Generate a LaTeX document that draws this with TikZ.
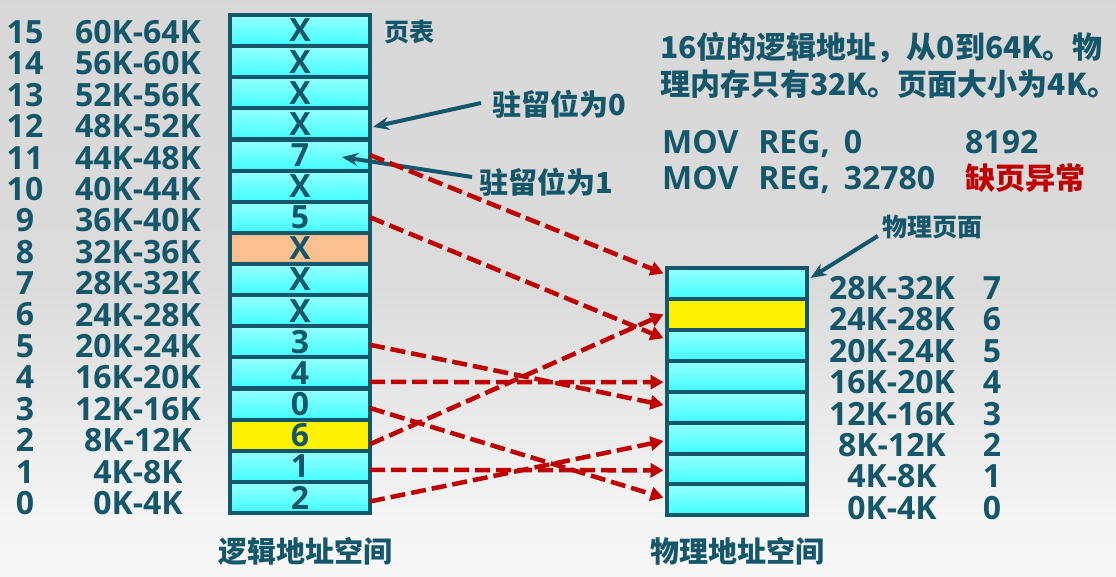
\documentclass[tikz,border=0pt]{standalone}
\usepackage{fontspec}
\setmainfont{Open Sans}
\newfontfamily\cjk{Noto Sans CJK SC}
\usetikzlibrary{arrows.meta,calc}
\definecolor{ink}{RGB}{20,86,106}
\definecolor{pfred}{RGB}{192,0,0}
\definecolor{cellhi}{RGB}{150,255,255}
\definecolor{celllo}{RGB}{64,255,255}
\definecolor{swapped}{RGB}{250,192,143}
\pgfdeclareverticalshading{slidebg}{100bp}{color(0bp)=(white); color(30bp)=(black!4); color(50bp)=(black!14); color(100bp)=(black!17)}

\begin{document}
\begin{tikzpicture}[
  x=1pt, y=-1pt,
  every node/.style={font=\bfseries\fontsize{32}{32}\selectfont, text=ink, inner sep=0pt},
  cellbase/.style={draw=ink, line width=4pt, minimum width=140pt, minimum height=31.1pt, outer sep=0pt},
  cell/.style={cellbase, top color=cellhi, bottom color=celllo},
  flatcell/.style={cellbase, fill=#1},
  cjktext/.style={font=\cjk\bfseries\fontsize{#1}{#1}\selectfont},
  map/.style={draw=pfred, line width=4.5pt, dash pattern=on 15pt off 6pt, -{Triangle[length=13pt,width=14pt]}},
  pointer/.style={draw=ink, line width=4pt, -{Stealth[length=16pt,width=13pt]}}
]
\useasboundingbox (0,0) rectangle (1116,577);
\shade[shading=slidebg] (0,0) rectangle (1116,577);

% logical address space (page table)
\foreach \k/\v in {15/X,14/X,13/X,12/X,11/7,10/X,9/5,7/X,6/X,5/3,4/4,3/0,1/1,0/2}
  \node[cell] (l\k) at (300,{15+(15.5-\k)*31.125}) {\v};
\node[flatcell=swapped] (l8) at (300,{15+7.5*31.125}) {X};
\node[flatcell=yellow] (l2) at (300,{15+13.5*31.125}) {6};
\foreach \k in {0,...,15}{
  \pgfmathtruncatemacro\lo{4*\k}
  \pgfmathtruncatemacro\hi{4*\k+4}
  \node (n\k) at (25,{32+(15-\k)*31.4}) {\k};
  \node (r\k) at (138,{32+(15-\k)*31.4}) {\lo K-\hi K};
}
\node[cjktext=25] (pt) at (409,32) {页表};
\node[cjktext=29] (vspace) at (305,551) {逻辑地址空间};

% physical address space
\foreach \k in {0,1,2,3,4,5,7}
  \node[cell] (f\k) at (736.5,{268+(7.5-\k)*30.9}) {};
\node[flatcell=yellow] (f6) at (736.5,{268+1.5*30.9}) {};
\foreach \k in {0,...,7}{
  \pgfmathtruncatemacro\lo{4*\k}
  \pgfmathtruncatemacro\hi{4*\k+4}
  \node (fr\k) at (892,{288+(7-\k)*31.4}) {\lo K-\hi K};
  \node (fn\k) at (992,{288+(7-\k)*31.4}) {\k};
}
\node[cjktext=29] (pspace) at (737,551) {物理地址空间};
\node[cjktext=25] (pp) at (932,227) {物理页面};

% notes
\node[cjktext=30, anchor=west] (info1) at (660,48) {16位的逻辑地址，从0到64K。物};
\node[cjktext=30, anchor=west] (info2) at (660,84) {理内存只有32K。页面大小为4K。};
\node[anchor=base west] (mov1) at (662,154) {MOV\hspace{20pt}REG,\hspace{14pt}0};
\node[anchor=base west] (mov2) at (662,190) {MOV\hspace{20pt}REG,\hspace{14pt}32780};
\node[anchor=base west] (addr1) at (965,154) {8192};
\node[cjktext=30, anchor=base west, text=pfred] (fault) at (965,190) {缺页异常};
\node[cjktext=29, anchor=west] (res0) at (492,104) {驻留位为0};
\node[cjktext=29, anchor=west] (res1) at (479,182) {驻留位为1};

\draw[pointer] ($(res0.west)+(-11,-1)$) -- ($(l12.east)+(3,3)$);
\draw[pointer] ($(res1.west)+(-7,-5)$) -- ($(l11.center)+(42,2)$);
\draw[pointer] ($(pp.west)+(-4,9)$) -- ($(f7.north east)+(4,10)$);

% page -> frame mapping
\draw[map] (l11.east) -- ($(f7.west)+(-3,-10)$);
\draw[map] (l9.east) -- ($(f5.west)+(-3,-7)$);
\draw[map] ($(l5.east)+(0,3)$) -- ($(f3.west)+(-3,-2)$);
\draw[map] ($(l4.east)+(0,9)$) -- ($(f4.west)+(-3,6)$);
\draw[map] ($(l3.east)+(0,4)$) -- ($(f0.west)+(-3,-2)$);
\draw[map] ($(l2.east)+(0,9)$) -- ($(f6.west)+(-3,0)$);
\draw[map] ($(l1.east)+(0,3.5)$) -- ($(f1.west)+(-3,1.5)$);
\draw[map] ($(l0.east)+(0,4)$) -- ($(f2.west)+(-3,3)$);
\end{tikzpicture}
\end{document}
